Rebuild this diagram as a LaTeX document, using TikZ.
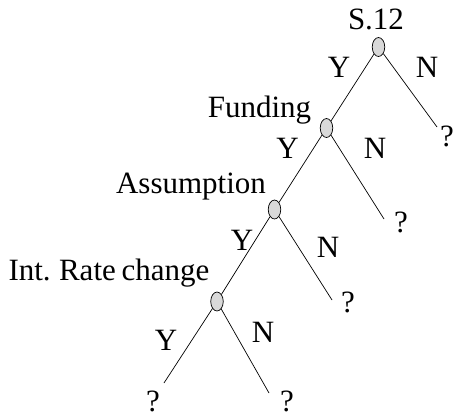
\documentclass[tikz,border=0pt]{standalone}
\usepackage{fontspec}
\setmainfont{Liberation Serif}[WordSpace=0.75]
\usetikzlibrary{shapes.geometric}
\tikzset{
  knoten/.style={ellipse, draw, fill=gray!30, minimum width=12.5pt, minimum height=19pt, inner sep=0pt},
  txt/.style={anchor=base, inner sep=0pt, font=\fontsize{31}{36}\selectfont}
}
\begin{document}
\begin{tikzpicture}[x=1pt, y=-1pt, line width=0.7pt]
                  \useasboundingbox (0,0) rectangle (459,418);

                  % Entscheidungsknoten
                  \node[knoten] (s12) at (378.5,47) {};
                  \node[knoten] (fund) at (326.5,128) {};
                  \node[knoten] (ass) at (274.5,209.5) {};
                  \node[knoten] (irc) at (217,301.5) {};

                  % Blaetter
                  \coordinate (b1) at (437,127);
                  \coordinate (b2) at (384,219);
                  \coordinate (b3) at (332,300);
                  \coordinate (b4) at (164,383);
                  \coordinate (b5) at (269,393);

                  % Kanten
                  \draw (s12) -- (fund);
                  \draw (fund) -- (ass);
                  \draw (ass) -- (irc);
                  \draw (s12) -- (b1);
                  \draw (fund) -- (b2);
                  \draw (ass) -- (b3);
                  \draw (irc) -- (b4);
                  \draw (irc) -- (b5);

                  % Beschriftungen der Knoten
                  \node[txt] (ls12) at (376,29) {S.12};
                  \node[txt] (lfund) at (259.5,117) {Funding};
                  \node[txt] (lass) at (191,193) {Assumption};
                  \node[txt] (lirc) at (109,280) {Int. Rate change};

                  % Y / N
                  \node[txt] (y1) at (339,77) {Y};
                  \node[txt] (n1) at (427,77) {N};
                  \node[txt] (y2) at (287.5,158) {Y};
                  \node[txt] (n2) at (375,158) {N};
                  \node[txt] (y3) at (242,250) {Y};
                  \node[txt] (n3) at (328,257) {N};
                  \node[txt] (y4) at (166,350) {Y};
                  \node[txt] (n4) at (263,342) {N};

                  % Fragezeichen
                  \node[txt] (q1) at (447,146) {?};
                  \node[txt] (q2) at (401,232) {?};
                  \node[txt] (q3) at (348,312) {?};
                  \node[txt] (q4) at (153,411) {?};
                  \node[txt] (q5) at (287,411) {?};
\end{tikzpicture}
\end{document}
